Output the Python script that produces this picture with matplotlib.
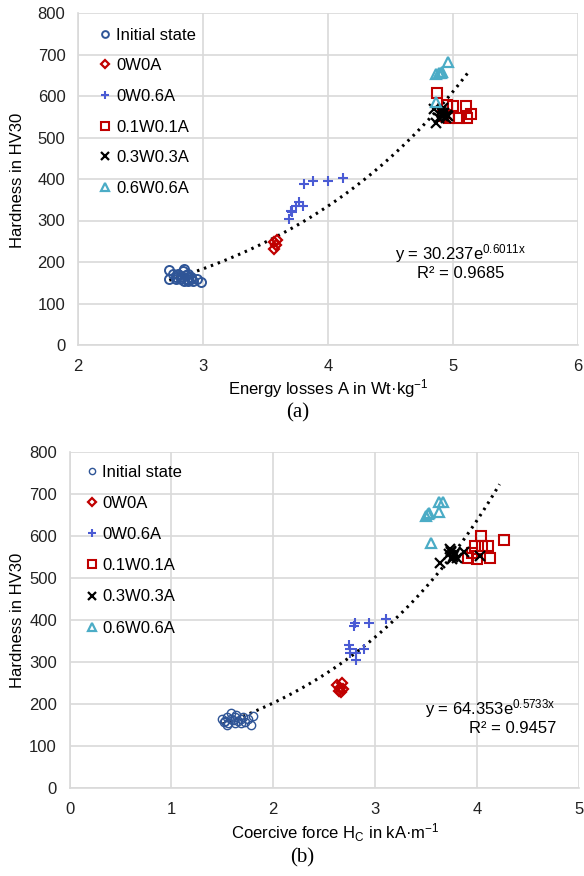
import matplotlib
matplotlib.use("Agg")
import matplotlib.pyplot as plt
import numpy as np

plt.rcParams['font.family'] = ['Liberation Sans', 'DejaVu Sans']
plt.rcParams['mathtext.fontset'] = 'custom'
plt.rcParams['mathtext.rm'] = 'Liberation Sans'
plt.rcParams['mathtext.it'] = 'Liberation Sans:italic'

# ---------------- data: (a) hardness vs energy losses ----------------
a_init_x = [2.73, 2.73, 2.76, 2.78, 2.80, 2.82, 2.84, 2.85, 2.86, 2.87, 2.88, 2.90, 2.92, 2.95, 2.98, 2.78, 2.83, 2.88, 2.90, 2.85]
a_init_y = [180, 160, 170, 165, 172, 160, 178, 182, 168, 158, 155, 165, 155, 158, 152, 160, 165, 172, 160, 155]
a_0w0a_x = [3.57, 3.59, 3.57, 3.58]
a_0w0a_y = [248, 252, 232, 240]
a_0w06a_x = [3.81, 3.88, 4.00, 4.12, 3.77, 3.80, 3.74, 3.70, 3.71, 3.69]
a_0w06a_y = [388, 396, 396, 403, 344, 336, 334, 324, 320, 304]
a_01w01a_x = [4.87, 4.95, 5.00, 5.10, 5.14, 5.11, 5.05, 4.97, 4.92]
a_01w01a_y = [608, 579, 577, 577, 556, 547, 547, 548, 551]
a_03w03a_x = [4.86, 4.85, 4.90, 4.91, 4.92, 4.93, 4.94, 4.95, 4.89, 4.92, 4.96]
a_03w03a_y = [534, 568, 565, 558, 552, 560, 548, 555, 548, 570, 552]
a_06w06a_x = [4.96, 4.86, 4.89, 4.91, 4.90, 4.86]
a_06w06a_y = [682, 653, 655, 658, 655, 585]
a_fit_coef = [30.237, 0.6011]
a_fit_range = [2.73, 5.13]

# ---------------- data: (b) hardness vs coercive force ----------------
b_init_x = [1.50, 1.52, 1.53, 1.55, 1.56, 1.58, 1.60, 1.62, 1.63, 1.65, 1.68, 1.70, 1.72, 1.75, 1.78, 1.80, 1.55, 1.62, 1.68, 1.58]
b_init_y = [165, 158, 160, 170, 155, 178, 162, 168, 175, 160, 165, 170, 158, 165, 150, 172, 150, 155, 155, 165]
b_0w0a_x = [2.63, 2.67, 2.65, 2.68, 2.66, 2.64]
b_0w0a_y = [245, 250, 238, 235, 228, 232]
b_0w06a_x = [2.80, 2.79, 2.94, 3.11, 2.74, 2.75, 2.75, 2.81, 2.89, 2.81]
b_0w06a_y = [394, 386, 394, 402, 340, 331, 321, 321, 331, 304]
b_01w01a_x = [4.04, 4.26, 3.98, 4.05, 4.11, 3.95, 3.91, 4.00, 4.13]
b_01w01a_y = [601, 590, 577, 577, 577, 559, 548, 546, 547]
b_03w03a_x = [3.64, 3.87, 4.03, 3.72, 3.74, 3.76, 3.78, 3.80, 3.73, 3.75, 3.77, 3.74]
b_03w03a_y = [535, 561, 552, 558, 565, 550, 560, 548, 570, 545, 555, 562]
b_06w06a_x = [3.63, 3.67, 3.52, 3.50, 3.53, 3.63, 3.55]
b_06w06a_y = [682, 682, 652, 648, 655, 656, 584]
b_fit_coef = [64.353, 0.5733]
b_fit_range = [1.50, 4.22]

labels = ['Initial state', '0W0A', '0W0.6A', '0.1W0.1A', '0.3W0.3A', '0.6W0.6A']

W, H = 584, 876
fig = plt.figure(figsize=(W / 100, H / 100), dpi=100)

grid_c = '#d9d9d9'
FS = 12


def make_axes(rect, xlim, xticks, ylim, yticks):
    ax = fig.add_axes(rect)
    ax.set_xlim(*xlim)
    ax.set_ylim(*ylim)
    ax.set_xticks(xticks)
    ax.set_yticks(yticks)
    ax.grid(True, color=grid_c, lw=1.2)
    ax.set_axisbelow(True)
    for s in ['top', 'right']:
        ax.spines[s].set_visible(False)
    for s in ['left', 'bottom']:
        ax.spines[s].set_color(grid_c)
        ax.spines[s].set_linewidth(1.2)
    ax.tick_params(length=0, labelsize=FS, colors='#222222')
    ax.tick_params(axis='y', pad=9)
    ax.tick_params(axis='x', pad=10)
    return ax


def draw_series(ax, series, msz, circle_mew):
    styles = [
        dict(marker='o', mfc='none', mec='#2f5597', mew=circle_mew, ms=msz[0]),
        dict(marker='D', mfc='none', mec='#c00000', mew=1.6, ms=msz[1]),
        dict(marker='+', color='#4a5bd4', mew=1.5, ms=msz[2]),
        dict(marker='s', mfc='none', mec='#c00000', mew=1.5, ms=msz[3]),
        dict(marker='x', color='black', mew=1.6, ms=msz[4]),
        dict(marker='^', mfc='none', mec='#4bacc6', mew=1.6, ms=msz[5]),
    ]
    for (x, y), st, lab in zip(series, styles, labels):
        ax.plot(x, y, ls='none', label=lab, **st)


def draw_fit(ax, coef, rng):
    xs = np.linspace(rng[0], rng[1], 200)
    ax.plot(xs, coef[0] * np.exp(coef[1] * xs), color='black', lw=2.2,
            ls=(0, (0.8, 1.6)), zorder=1.5)


# ----- (a) -----
axa = make_axes([78 / W, 1 - 345 / H, 500 / W, 332 / H], (2, 6), [2, 3, 4, 5, 6],
                (0, 800), range(0, 801, 100))
draw_fit(axa, a_fit_coef, a_fit_range)
draw_series(axa, [(a_init_x, a_init_y), (a_0w0a_x, a_0w0a_y), (a_0w06a_x, a_0w06a_y),
                  (a_01w01a_x, a_01w01a_y), (a_03w03a_x, a_03w03a_y), (a_06w06a_x, a_06w06a_y)],
            [6.5, 5, 7, 7, 7, 7], 1.4)
axa.legend(loc='upper left', bbox_to_anchor=(0.03, 0.976), frameon=False,
           fontsize=FS, handlelength=0.6, handletextpad=0.4, labelspacing=0.94,
           borderaxespad=0, markerscale=0.75)
axa.text(0.765, 0.275, 'y = 30.237e$^{\\mathregular{0.6011x}}$', transform=axa.transAxes,
         ha='center', va='center', fontsize=FS)
axa.text(0.765, 0.215, 'R² = 0.9685', transform=axa.transAxes,
         ha='center', va='center', fontsize=FS)
fig.text(328 / W, 1 - 389 / H, 'Energy losses A in Wt·kg$^{\\mathregular{-1}}$', ha='center',
         va='center', fontsize=FS)
fig.text(18 / W, 1 - 180 / H, 'Hardness in HV30', rotation=90, ha='center', va='center',
         fontsize=FS)
fig.text(298 / W, 1 - 413 / H, '(a)', ha='center', va='center', fontsize=15,
         family='Liberation Serif')

# ----- (b) -----
axb = make_axes([69.5 / W, 1 - 788 / H, 509.5 / W, 336 / H], (0, 5), [0, 1, 2, 3, 4, 5],
                (0, 800), range(0, 801, 100))
draw_fit(axb, b_fit_coef, b_fit_range)
draw_series(axb, [(b_init_x, b_init_y), (b_0w0a_x, b_0w0a_y), (b_0w06a_x, b_0w06a_y),
                  (b_01w01a_x, b_01w01a_y), (b_03w03a_x, b_03w03a_y), (b_06w06a_x, b_06w06a_y)],
            [6, 5, 7, 7, 7, 7], 1.0)
axb.legend(loc='upper left', bbox_to_anchor=(0.022, 0.982), frameon=False,
           fontsize=FS, handlelength=0.6, handletextpad=0.3, labelspacing=0.97,
           borderaxespad=0, markerscale=0.75)
axb.text(0.955, 0.235, 'y = 64.353e$^{\\mathregular{0.5733x}}$', transform=axb.transAxes,
         ha='right', va='center', fontsize=FS)
axb.text(0.955, 0.178, 'R² = 0.9457', transform=axb.transAxes,
         ha='right', va='center', fontsize=FS)
fig.text(335 / W, 1 - 833 / H, 'Coercive force H$_{\\mathregular{C}}$ in kA·m$^{\\mathregular{-1}}$',
         ha='center', va='center', fontsize=FS)
fig.text(18 / W, 1 - 620 / H, 'Hardness in HV30', rotation=90, ha='center', va='center',
         fontsize=FS)
fig.text(302 / W, 1 - 858 / H, '(b)', ha='center', va='center', fontsize=15,
         family='Liberation Serif')

fig.savefig('out.png', dpi=100)
